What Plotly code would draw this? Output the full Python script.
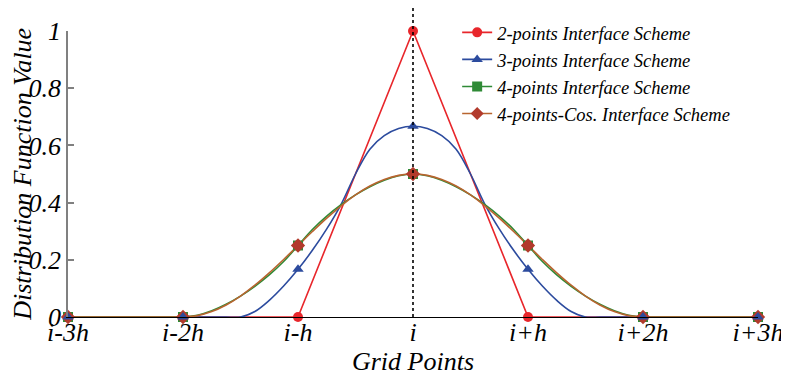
import plotly.graph_objects as go

# grid nodes (in units of h, relative to i) and their labels
grid = [-3, -2, -1, 0, 1, 2, 3]
grid_labels = ['i-3h', 'i-2h', 'i-h', 'i', 'i+h', 'i+2h', 'i+3h']

# curve sample positions, step h/8
x_fine = [k / 8 for k in range(-24, 25)]

# 2-points scheme (piecewise linear)
two_pt = [0, 0, 0, 1, 0, 0, 0]

# 3-points scheme
three_pt_nodes = [0, 0, 0.1667, 0.6667, 0.1667, 0, 0]
three_pt = [0, 0, 0, 0, 0, 0, 0, 0,
            0, 0, 0, 0, 0, 0.0191, 0.058, 0.1081,
            0.1667, 0.2331, 0.3081, 0.3941, 0.5, 0.5868, 0.634, 0.6588,
            0.6667,
            0.6588, 0.634, 0.5868, 0.5, 0.3941, 0.3081, 0.2331, 0.1667,
            0.1081, 0.058, 0.0191, 0, 0, 0, 0, 0,
            0, 0, 0, 0, 0, 0, 0, 0]

# 4-points scheme
four_pt_nodes = [0, 0, 0.25, 0.5, 0.25, 0, 0]
four_pt = [0, 0, 0, 0, 0, 0, 0, 0,
           0, 0.0064, 0.0221, 0.0448, 0.0732, 0.1073, 0.1471, 0.1939,
           0.25, 0.3061, 0.3529, 0.3927, 0.4268, 0.4552, 0.4779, 0.4936,
           0.5,
           0.4936, 0.4779, 0.4552, 0.4268, 0.3927, 0.3529, 0.3061, 0.25,
           0.1939, 0.1471, 0.1073, 0.0732, 0.0448, 0.0221, 0.0064, 0,
           0, 0, 0, 0, 0, 0, 0, 0]

# 4-points cosine scheme
cos_pt_nodes = [0, 0, 0.25, 0.5, 0.25, 0, 0]
cos_pt = [0, 0, 0, 0, 0, 0, 0, 0,
          0, 0.0048, 0.019, 0.0421, 0.0732, 0.1111, 0.1543, 0.2012,
          0.25, 0.2988, 0.3457, 0.3889, 0.4268, 0.4579, 0.481, 0.4952,
          0.5,
          0.4952, 0.481, 0.4579, 0.4268, 0.3889, 0.3457, 0.2988, 0.25,
          0.2012, 0.1543, 0.1111, 0.0732, 0.0421, 0.019, 0.0048, 0,
          0, 0, 0, 0, 0, 0, 0, 0]

RED = '#e8262b'
BLUE = '#2c4b9e'
GREEN = '#2f8a36'
BROWN = '#b8642f'
BROWN_MK = '#b23a2c'

series = [
    ('2-points Interface Scheme', grid, two_pt, grid, two_pt, RED, RED, 'circle', 'linear'),
    ('3-points Interface Scheme', x_fine, three_pt, grid, three_pt_nodes, BLUE, BLUE, 'triangle-up', 'spline'),
    ('4-points Interface Scheme', x_fine, four_pt, grid, four_pt_nodes, GREEN, GREEN, 'square', 'spline'),
    ('4-points-Cos. Interface Scheme', x_fine, cos_pt, grid, cos_pt_nodes, BROWN, BROWN_MK, 'diamond', 'spline'),
]

fig = go.Figure()

# lines
for name, xl, yl, xm, ym, col, mcol, sym, shape in series:
    fig.add_trace(go.Scatter(x=xl, y=yl, mode='lines', line=dict(color=col, width=1.6, shape=shape),
                             showlegend=False, hoverinfo='skip', cliponaxis=False))

# markers (blue drawn last, it sits on top in the original)
for idx in [0, 2, 3, 1]:
    name, xl, yl, xm, ym, col, mcol, sym, shape = series[idx]
    fig.add_trace(go.Scatter(x=xm, y=ym, mode='markers', showlegend=False, cliponaxis=False,
                             marker=dict(symbol=sym, size=10 if sym != 'diamond' else 11, color=mcol)))

# legend entries
for name, xl, yl, xm, ym, col, mcol, sym, shape in series:
    fig.add_trace(go.Scatter(x=[None], y=[None], mode='lines+markers', name=name,
                             line=dict(color=col, width=1.6),
                             marker=dict(symbol=sym, size=10, color=mcol)))

fig.add_shape(type='line', x0=0, x1=0, y0=0, y1=1.12, xref='x', yref='paper',
              line=dict(color='black', width=1.6, dash='dot'), layer='above')

font = 'Liberation Serif, Times New Roman, serif'

# y title as an annotation so it can sit further left than the axis title allows
fig.add_annotation(text='Distribution Function Value', xref='paper', yref='paper',
                   x=-0.067, y=0.5, xanchor='center', yanchor='middle', textangle=-90,
                   showarrow=False, font=dict(size=26, style='italic'))

# page body has an 8px margin, so the figure is a bit smaller than the window
fig.update_layout(
    width=781, height=369,
    margin=dict(l=60, r=31, t=23, b=60, autoexpand=False),
    paper_bgcolor='white', plot_bgcolor='white',
    font=dict(family=font, color='black'),
    xaxis=dict(range=[-3, 3], tickvals=grid, ticktext=grid_labels, showgrid=False, zeroline=False,
               showline=True, linecolor='black', linewidth=1.2, ticks='', automargin=False,
               ticklabelstandoff=-8,
               tickfont=dict(size=26, style='italic'),
               title=dict(text='Grid Points', font=dict(size=26, style='italic'), standoff=0)),
    yaxis=dict(range=[0, 1], tickvals=[0, 0.2, 0.4, 0.6, 0.8, 1], ticktext=['0', '0.2', '0.4', '0.6', '0.8', '1'],
               showgrid=False, zeroline=False, showline=True, linecolor='#808080', linewidth=1.5,
               ticks='inside', ticklen=6, tickcolor='#808080', tickwidth=1.5, automargin=False,
               tickfont=dict(size=26, style='italic')),
    legend=dict(x=0.564, y=1.06, xanchor='left', yanchor='top', bgcolor='rgba(0,0,0,0)',
                font=dict(size=18.5, style='italic'), tracegroupgap=0, itemwidth=30),
)

fig.write_html('out.html')
